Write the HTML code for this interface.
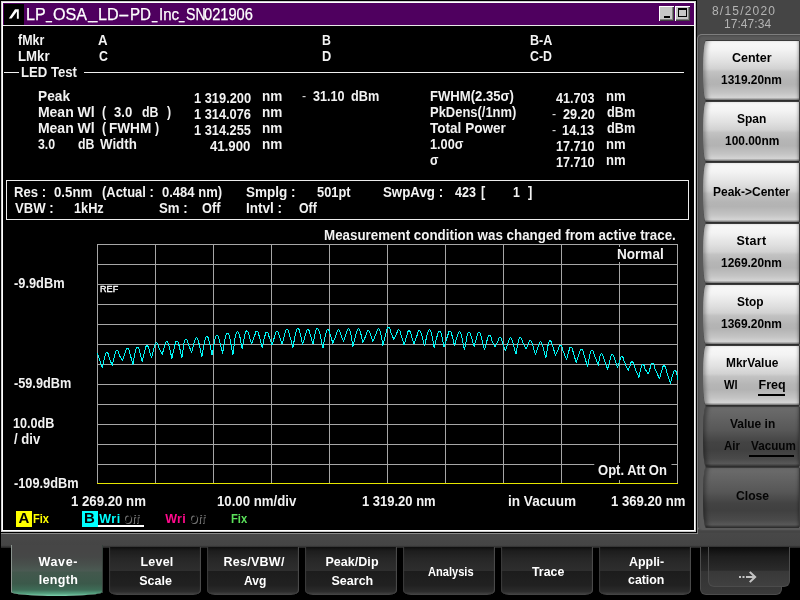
<!DOCTYPE html>
<html><head><meta charset="utf-8"><title>OSA</title>
<style>
html,body{margin:0;padding:0}
body{width:800px;height:600px;position:relative;overflow:hidden;background:#000;font-family:"Liberation Sans",sans-serif;}
.t{position:absolute;white-space:pre;line-height:1;transform-origin:0 0;font-weight:bold;color:#f2f2f2;font-family:"Liberation Sans",sans-serif;}
.a{position:absolute;}
#tx{left:0;top:0;width:800px;height:600px;will-change:transform;}
.g{position:absolute;left:0;top:0;}
/* right panel */
#rp{left:696px;top:0;width:104px;height:547px;background:#454545;}
#rpl{left:696px;top:0;width:1px;height:533px;background:#000;}
#rpl2{left:697px;top:40px;width:1px;height:494px;background:#7e7e7e;}
#pn{left:697px;top:34px;width:110px;height:497px;border-bottom-color:#4a4a4a !important;border:1px solid #7e7e7e;border-radius:5px;background:#5a5a5a;box-sizing:border-box;box-shadow:inset 1px 1px 2px rgba(0,0,0,.2);}
.rb{position:absolute;left:703px;width:96px;height:59px;border-radius:3px 0 0 3px / 29px 0 0 29px;
 background:linear-gradient(to bottom,#f9f9f9 0%,#f3f3f3 15%,#e0e0e0 35%,#d2d2d2 47%,#c2c2c2 52%,#b5b5b5 66%,#b3b3b3 74%,#c4c4c4 88%,#d4d4d4 96%,#7a7a7a 100%);
 box-shadow:inset 4px 0 4px -2px rgba(0,0,0,.35), inset -3px 0 3px -2px rgba(0,0,0,.3), 0 1px 0 #2e2e2e, 0 -1px 0 #3a3a3a, 1px 0 0 #3c3c3c;}
.rb.dk{background:linear-gradient(to bottom,#6c6c6c 0%,#636363 18%,#575757 40%,#4d4d4d 50%,#434343 60%,#404040 72%,#4a4a4a 88%,#585858 96%,#3c3c3c 100%);
 box-shadow:inset 4px 0 4px -2px rgba(0,0,0,.4), inset -3px 0 3px -2px rgba(0,0,0,.3), 0 1px 0 #2e2e2e, 0 -1px 0 #3a3a3a, 1px 0 0 #3c3c3c;}
/* bottom */
.atab{position:absolute;top:547px;box-sizing:border-box;border:1px solid #4c4c4c;border-top:none;border-radius:0 0 6px 6px;}
#bb{left:1px;top:533px;width:799px;height:15px;background:linear-gradient(to bottom,#484848 0%,#454545 82%,#222 100%);}
#bbt{left:1px;top:533px;width:697px;height:1px;background:#8a8a8a;}
.tab{position:absolute;top:547px;width:92px;height:48px;border-radius:0 0 8px 8px / 0 0 5px 5px;
 background:linear-gradient(to bottom,#0e0e0e 0%,#1d1d1d 8%,#272727 25%,#2e2e2e 49%,#1c1c1c 51%,#212121 80%,#2c2c2c 93%,#484848 100%);
 box-shadow:inset 2px 0 1px -1px #3c3c3c, inset -2px 0 1px -1px #4e4e4e;}
.tab.act{top:545px;height:51px;border-radius:0 0 46px 46px / 0 0 4px 4px;
 background:linear-gradient(to bottom,#464646 0%,#464646 14%,#464847 24%,#48504c 38%,#4b5a53 51%,#43584d 53%,#3b594a 76%,#3e6c57 88%,#55a07f 95%,#7ed0ad 100%);
 box-shadow:inset 1px 0 0 #8a938e, inset -1px 0 0 #36403b;}
</style></head>
<body>
<!-- window frame -->
<div class="a" style="left:1px;top:1px;width:695px;height:531px;background:#fff;"></div>
<div class="a" style="left:1px;top:1px;width:1px;height:531px;background:#d0d0d0;"></div>
<div class="a" style="left:1px;top:1px;width:695px;height:1px;background:#d0d0d0;"></div>
<div class="a" style="left:695px;top:2px;width:1px;height:530px;background:#c8c8c8;"></div>
<div class="a" style="left:2px;top:531px;width:694px;height:1px;background:#c8c8c8;"></div>
<div class="a" style="left:3px;top:3px;width:691px;height:527px;background:#000;"></div>
<!-- title bar -->
<div class="a" style="left:3px;top:3px;width:691px;height:22px;background:#4f005f;"></div>
<div class="a" style="left:3px;top:25px;width:691px;height:1px;background:#e8e8e8;"></div>
<div class="a" style="left:4px;top:4px;width:20px;height:21px;background:#000;"></div>
<svg class="a" style="left:4px;top:4px" width="20" height="21" viewBox="0 0 20 21"><path d="M4.8 14.6 L11 5.3 L14.8 5.3 L14.8 14.8 L12.9 14.8 L12.9 7.4 L7.6 14.6 Z" fill="#fff"/></svg>
<!-- title buttons -->
<div class="a" style="left:659px;top:6px;width:15px;height:15px;background:#c6c6c6;box-shadow:inset 1px 1px 0 #fff, inset -1px -1px 0 #404040, inset -2px -2px 0 #808080;"></div>
<div class="a" style="left:664px;top:16px;width:6px;height:2px;background:#000;"></div>
<div class="a" style="left:675px;top:6px;width:15px;height:15px;background:#c6c6c6;box-shadow:inset 1px 1px 0 #fff, inset -1px -1px 0 #404040, inset -2px -2px 0 #808080;"></div>
<div class="a" style="left:678px;top:8px;width:9px;height:9px;box-sizing:border-box;border:1px solid #000;border-top-width:2px;"></div>
<!-- LED Test separator -->
<div class="a" style="left:4px;top:72px;width:15px;height:1px;background:#f0f0f0;"></div>
<div class="a" style="left:84px;top:72px;width:600px;height:1px;background:#f0f0f0;"></div>
<!-- res box -->
<div class="a" style="left:6px;top:180px;width:683px;height:40px;box-sizing:border-box;border:1px solid #ececec;"></div>
<svg class="g" width="800" height="600" viewBox="0 0 800 600">
<rect x="97" y="244" width="1" height="240" fill="#a6a6a6"/><rect x="155" y="244" width="1" height="240" fill="#a6a6a6"/><rect x="213" y="244" width="1" height="240" fill="#a6a6a6"/><rect x="271" y="244" width="1" height="240" fill="#a6a6a6"/><rect x="329" y="244" width="1" height="240" fill="#a6a6a6"/><rect x="387" y="244" width="1" height="240" fill="#a6a6a6"/><rect x="445" y="244" width="1" height="240" fill="#a6a6a6"/><rect x="503" y="244" width="1" height="240" fill="#a6a6a6"/><rect x="561" y="244" width="1" height="240" fill="#a6a6a6"/><rect x="619" y="244" width="1" height="240" fill="#a6a6a6"/><rect x="677" y="244" width="1" height="240" fill="#a6a6a6"/><rect x="97" y="244" width="581" height="1" fill="#a6a6a6"/><rect x="97" y="264" width="581" height="1" fill="#a6a6a6"/><rect x="97" y="284" width="581" height="1" fill="#a6a6a6"/><rect x="97" y="304" width="581" height="1" fill="#a6a6a6"/><rect x="97" y="324" width="581" height="1" fill="#a6a6a6"/><rect x="97" y="344" width="581" height="1" fill="#a6a6a6"/><rect x="97" y="364" width="581" height="1" fill="#a6a6a6"/><rect x="97" y="384" width="581" height="1" fill="#a6a6a6"/><rect x="97" y="404" width="581" height="1" fill="#a6a6a6"/><rect x="97" y="424" width="581" height="1" fill="#a6a6a6"/><rect x="97" y="444" width="581" height="1" fill="#a6a6a6"/><rect x="97" y="464" width="581" height="1" fill="#a6a6a6"/><rect x="97" y="483" width="581" height="1" fill="#e6e600"/>
<polyline points="97.0,352.5 98.0,356.0 102.0,367.6 104.2,356.1 105.4,352.4 106.4,351.6 107.6,353.1 108.8,357.1 111.6,365.0 114.4,354.1 115.6,350.4 116.6,349.6 117.8,351.1 119.0,355.1 122.0,360.0 124.8,351.9 126.0,348.2 127.0,347.4 128.2,348.9 129.4,352.9 132.4,364.0 134.8,350.9 136.0,347.2 137.0,346.4 138.2,347.9 139.4,351.9 141.6,361.0 144.4,349.5 145.6,345.8 146.6,345.0 147.8,346.5 149.0,350.5 151.0,357.0 153.8,346.5 155.0,342.8 156.0,342.0 157.2,343.5 158.4,347.5 161.6,354.0 164.2,345.5 165.4,341.8 166.4,341.0 167.6,342.5 168.8,346.5 171.4,358.0 174.2,344.9 175.4,341.2 176.4,340.4 177.6,341.9 178.8,345.9 181.4,357.0 183.4,342.9 184.6,339.2 185.6,338.4 186.8,339.9 188.0,343.9 191.0,352.0 193.8,341.5 195.0,337.8 196.0,337.0 197.2,338.5 198.4,342.5 201.4,356.4 204.2,340.1 205.4,336.4 206.4,335.6 207.6,337.1 208.8,341.1 211.6,354.4 214.4,338.9 215.6,335.2 216.6,334.4 217.8,335.9 219.0,339.9 222.0,353.0 224.8,336.9 226.0,333.2 227.0,332.4 228.2,333.9 229.4,337.9 232.4,354.4 234.8,335.5 236.0,331.8 237.0,331.0 238.2,332.5 239.4,336.5 241.6,348.0 244.2,334.7 245.4,331.0 246.4,330.2 247.6,331.7 248.8,335.7 251.0,343.6 254.2,334.9 255.4,331.2 256.4,330.4 257.6,331.9 258.8,335.9 261.6,347.0 264.2,335.9 265.4,332.2 266.4,331.4 267.6,332.9 268.8,336.9 271.6,344.4 274.4,335.1 275.6,331.4 276.6,330.6 277.8,332.1 279.0,336.1 281.6,343.6 284.4,333.1 285.6,329.4 286.6,328.6 287.8,330.1 289.0,334.1 292.4,347.0 295.2,332.1 296.4,328.4 297.4,327.6 298.6,329.1 299.8,333.1 302.0,344.4 305.2,333.1 306.4,329.4 307.4,328.6 308.6,330.1 309.8,334.1 312.4,343.6 314.8,332.1 316.0,328.4 317.0,327.6 318.2,329.1 319.4,333.1 322.4,347.6 325.2,333.1 326.4,329.4 327.4,328.6 328.6,330.1 329.8,334.1 332.4,343.0 335.8,333.5 337.0,329.8 338.0,329.0 339.2,330.5 340.4,334.5 343.0,341.0 345.8,332.5 347.0,328.8 348.0,328.0 349.2,329.5 350.4,333.5 352.4,346.4 355.8,332.5 357.0,328.8 358.0,328.0 359.2,329.5 360.4,333.5 362.4,342.0 365.8,334.1 367.0,330.4 368.0,329.6 369.2,331.1 370.4,335.1 372.4,341.0 375.8,332.5 377.0,328.8 378.0,328.0 379.2,329.5 380.4,333.5 382.4,345.0 385.8,330.9 387.0,327.2 388.0,326.4 389.2,327.9 390.4,331.9 393.3,339.0 396.0,333.5 397.2,329.8 398.2,329.0 399.4,330.5 400.6,334.5 403.6,344.4 406.4,334.5 407.6,330.8 408.6,330.0 409.8,331.5 411.0,335.5 413.6,343.6 416.8,334.1 418.0,330.4 419.0,329.6 420.2,331.1 421.4,335.1 424.0,345.6 426.8,333.5 428.0,329.8 429.0,329.0 430.2,330.5 431.4,334.5 433.6,347.0 436.8,334.9 438.0,331.2 439.0,330.4 440.2,331.9 441.4,335.9 443.6,346.4 447.2,334.9 448.4,331.2 449.4,330.4 450.6,331.9 451.8,335.9 454.0,345.0 456.8,335.5 458.0,331.8 459.0,331.0 460.2,332.5 461.4,336.5 464.0,349.6 466.4,336.1 467.6,332.4 468.6,331.6 469.8,333.1 471.0,337.1 473.6,346.0 476.4,336.1 477.6,332.4 478.6,331.6 479.8,333.1 481.0,337.1 484.0,349.6 486.8,338.9 488.0,335.2 489.0,334.4 490.2,335.9 491.4,339.9 494.4,346.4 497.4,341.1 498.6,337.4 499.6,336.6 500.8,338.1 502.0,342.1 505.0,350.4 507.8,341.5 509.0,337.8 510.0,337.0 511.2,338.5 512.4,342.5 515.4,353.6 517.8,341.1 519.0,337.4 520.0,336.6 521.2,338.1 522.4,342.1 525.6,348.4 527.8,344.1 529.0,340.4 530.0,339.6 531.2,341.1 532.4,345.1 535.0,354.4 537.8,345.5 539.0,341.8 540.0,341.0 541.2,342.5 542.4,346.5 545.3,357.3 547.6,344.5 548.8,340.8 549.8,340.0 551.0,341.5 552.2,345.5 555.0,355.0 557.8,348.9 559.0,345.2 560.0,344.4 561.2,345.9 562.4,349.9 566.0,359.0 568.2,350.9 569.4,347.2 570.4,346.4 571.6,347.9 572.8,351.9 575.6,362.0 578.8,352.9 580.0,349.2 581.0,348.4 582.2,349.9 583.4,353.9 587.0,366.0 589.4,354.1 590.6,350.4 591.6,349.6 592.8,351.1 594.0,355.1 598.0,365.0 598.8,357.5 600.0,353.8 601.0,353.0 602.2,354.5 603.4,358.5 607.0,369.0 609.8,358.1 611.0,354.4 612.0,353.6 613.2,355.1 614.4,359.1 617.0,367.0 619.2,360.1 620.4,356.4 621.4,355.6 622.6,357.1 623.8,361.1 627.6,370.0 629.4,365.5 630.6,361.8 631.6,361.0 632.8,362.5 634.0,366.5 638.4,377.0 640.2,368.1 641.4,364.4 642.4,363.6 643.6,365.1 644.8,369.1 648.0,373.6 649.8,366.9 651.0,363.2 652.0,362.4 653.2,363.9 654.4,367.9 659.0,378.4 661.4,369.5 662.6,365.8 663.6,365.0 664.8,366.5 666.0,370.5 670.0,383.0 672.2,374.1 673.4,370.4 674.4,369.6 675.6,371.1 676.8,375.1 677.0,380.0" fill="none" stroke="#00f8f8" stroke-width="1" stroke-linejoin="bevel" shape-rendering="crispEdges" transform="translate(0.5,0.5)"/>
</svg>
<!-- legend boxes -->
<div class="a" style="left:16px;top:511px;width:16px;height:16px;background:#ffff00;"></div>
<div class="a" style="left:82px;top:511px;width:16px;height:16px;background:#00ffff;"></div>
<div class="a" style="left:98px;top:525px;width:46px;height:2px;background:#fff;"></div>
<!-- right panel -->
<div class="a" id="rp"></div><div class="a" id="rpl"></div><div class="a" id="rpl2"></div>
<div class="a" id="pn"></div>
<div class="rb" style="top:41px"></div><div class="rb" style="top:102px"></div><div class="rb" style="top:163px"></div><div class="rb" style="top:224px"></div><div class="rb" style="top:285px"></div><div class="rb" style="top:346px"></div><div class="rb dk" style="top:407px"></div><div class="rb dk" style="top:468px"></div>
<div class="a" style="left:758px;top:394px;width:27px;height:2px;background:#000;"></div>
<div class="a" style="left:749px;top:455px;width:45px;height:2px;background:#000;"></div>
<!-- bottom bar -->
<div class="a" style="left:0;top:532px;width:697px;height:1px;background:#000;"></div>
<div class="a" id="bb"></div><div class="a" id="bbt"></div>
<div class="tab act" style="left:11px"></div><div class="tab" style="left:109px"></div><div class="tab" style="left:207px"></div><div class="tab" style="left:305px"></div><div class="tab" style="left:403px"></div><div class="tab" style="left:501px"></div><div class="tab" style="left:599px"></div>
<div class="atab" style="left:700px;width:82px;height:48px;background:linear-gradient(to bottom,#0c0c0c 0%,#1e1e1e 20%,#2a2a2a 50%,#333 51%,#3a3a3a 100%);"></div>
<div class="atab" style="left:708px;width:82px;height:40px;background:linear-gradient(to bottom,#0c0c0c 0%,#1e1e1e 24%,#2b2b2b 60%,#383838 61%,#404040 100%);"></div>
<svg class="a" style="left:738px;top:570px" width="22" height="14" viewBox="0 0 22 14"><path d="M1 6h2v2h-2z M4.5 6h2v2h-2z M8 6h8v2h-8z M12.5 1.2 L18.6 7 L12.5 12.8 L11 11.4 L15.6 7 L11 2.6 Z" fill="#c4c4c4"/></svg>
<div class="a" id="tx">
<span class="t" style="left:25.5px;top:7px;font-size:16px;font-weight:normal;color:#ffffff;transform:scaleX(1.004);-webkit-text-stroke:0.25px #fff;">LP</span>
<span class="t" style="left:46.2px;top:5.6px;font-size:16px;font-weight:normal;color:#ffffff;transform:scaleX(0.661);-webkit-text-stroke:0.25px #fff;">_</span>
<span class="t" style="left:52.5px;top:7px;font-size:16px;font-weight:normal;color:#ffffff;transform:scaleX(1.006);-webkit-text-stroke:0.25px #fff;">OSA</span>
<span class="t" style="left:88.1px;top:5.6px;font-size:16px;font-weight:normal;color:#ffffff;transform:scaleX(0.531);-webkit-text-stroke:0.25px #fff;">__</span>
<span class="t" style="left:98.3px;top:7px;font-size:16px;font-weight:normal;color:#ffffff;transform:scaleX(1.01);-webkit-text-stroke:0.25px #fff;">LD</span>
<span class="t" style="left:118.2px;top:7px;font-size:16px;font-weight:normal;color:#ffffff;transform:scaleX(2.175);-webkit-text-stroke:0.25px #fff;">-</span>
<span class="t" style="left:129.6px;top:7px;font-size:16px;font-weight:normal;color:#ffffff;transform:scaleX(0.946);-webkit-text-stroke:0.25px #fff;">PD</span>
<span class="t" style="left:151.5px;top:5.6px;font-size:16px;font-weight:normal;color:#ffffff;transform:scaleX(0.597);-webkit-text-stroke:0.25px #fff;">_</span>
<span class="t" style="left:158.5px;top:7px;font-size:16px;font-weight:normal;color:#ffffff;transform:scaleX(0.939);-webkit-text-stroke:0.25px #fff;">Inc</span>
<span class="t" style="left:179.2px;top:5.6px;font-size:16px;font-weight:normal;color:#ffffff;transform:scaleX(0.608);-webkit-text-stroke:0.25px #fff;">_</span>
<span class="t" style="left:185.7px;top:7px;font-size:16px;font-weight:normal;color:#ffffff;transform:scaleX(0.882);-webkit-text-stroke:0.25px #fff;">SN</span>
<span class="t" style="left:204.1px;top:7px;font-size:16px;font-weight:normal;color:#ffffff;transform:scaleX(0.915);-webkit-text-stroke:0.25px #fff;">021906</span>
<span class="t" style="left:17.9px;top:33px;font-size:14px;transform:scaleX(0.889);">fMkr</span>
<span class="t" style="left:17.6px;top:49px;font-size:14px;transform:scaleX(0.945);">LMkr</span>
<span class="t" style="left:97.8px;top:33px;font-size:14px;transform:scaleX(0.947);">A</span>
<span class="t" style="left:98.5px;top:49px;font-size:14px;transform:scaleX(0.88);">C</span>
<span class="t" style="left:321.7px;top:33px;font-size:14px;transform:scaleX(0.88);">B</span>
<span class="t" style="left:321.7px;top:49px;font-size:14px;transform:scaleX(0.914);">D</span>
<span class="t" style="left:529.7px;top:33px;font-size:14px;transform:scaleX(0.899);">B-A</span>
<span class="t" style="left:530.0px;top:49px;font-size:14px;transform:scaleX(0.88);">C-D</span>
<span class="t" style="left:21.2px;top:65px;font-size:14px;transform:scaleX(0.939);">LED Test</span>
<span class="t" style="left:37.9px;top:89px;font-size:14px;transform:scaleX(0.979);">Peak</span>
<span class="t" style="left:37.9px;top:105px;font-size:14px;">Mean Wl</span>
<span class="t" style="left:37.9px;top:121px;font-size:14px;">Mean Wl</span>
<span class="t" style="left:101.6px;top:105px;font-size:14px;transform:scaleX(0.88);">(</span>
<span class="t" style="left:114.3px;top:105px;font-size:14px;transform:scaleX(0.937);">3.0</span>
<span class="t" style="left:142.1px;top:105px;font-size:14px;transform:scaleX(0.883);">dB</span>
<span class="t" style="left:167.2px;top:105px;font-size:14px;transform:scaleX(0.88);">)</span>
<span class="t" style="left:101.6px;top:121px;font-size:14px;transform:scaleX(0.88);">(</span>
<span class="t" style="left:109.2px;top:121px;font-size:14px;transform:scaleX(0.97);">FWHM</span>
<span class="t" style="left:154.7px;top:121px;font-size:14px;transform:scaleX(0.88);">)</span>
<span class="t" style="left:38.4px;top:137px;font-size:14px;transform:scaleX(0.88);">3.0</span>
<span class="t" style="left:78.2px;top:137px;font-size:14px;transform:scaleX(0.88);">dB</span>
<span class="t" style="left:99.5px;top:137px;font-size:14px;transform:scaleX(0.949);">Width</span>
<span class="t" style="left:193.5px;top:90.5px;font-size:14px;transform:scaleX(0.917);">1 319.200</span>
<span class="t" style="left:193.5px;top:106.5px;font-size:14px;transform:scaleX(0.915);">1 314.076</span>
<span class="t" style="left:193.5px;top:122.5px;font-size:14px;transform:scaleX(0.913);">1 314.255</span>
<span class="t" style="left:210.2px;top:138.5px;font-size:14px;transform:scaleX(0.944);">41.900</span>
<span class="t" style="left:261.7px;top:89px;font-size:14px;transform:scaleX(0.969);">nm</span>
<span class="t" style="left:261.7px;top:105px;font-size:14px;transform:scaleX(0.969);">nm</span>
<span class="t" style="left:261.7px;top:121px;font-size:14px;transform:scaleX(0.969);">nm</span>
<span class="t" style="left:261.7px;top:137px;font-size:14px;transform:scaleX(0.969);">nm</span>
<span class="t" style="left:301.7px;top:89px;font-size:14px;font-weight:normal;color:#d0d0d0;transform:scaleX(0.88);">-</span>
<span class="t" style="left:313.2px;top:89px;font-size:14px;transform:scaleX(0.899);">31.10</span>
<span class="t" style="left:350.5px;top:89px;font-size:14px;transform:scaleX(0.906);">dBm</span>
<span class="t" style="left:429.7px;top:89px;font-size:14px;transform:scaleX(0.936);">FWHM(2.35σ)</span>
<span class="t" style="left:429.7px;top:105px;font-size:14px;transform:scaleX(0.925);">PkDens(/1nm)</span>
<span class="t" style="left:430.4px;top:121px;font-size:14px;transform:scaleX(0.968);">Total Power</span>
<span class="t" style="left:429.7px;top:137px;font-size:14px;transform:scaleX(0.909);">1.00σ</span>
<span class="t" style="left:429.7px;top:153px;font-size:14px;transform:scaleX(0.88);">σ</span>
<span class="t" style="left:555.9px;top:90.5px;font-size:14px;transform:scaleX(0.899);">41.703</span>
<span class="t" style="left:551.5px;top:106.5px;font-size:14px;font-weight:normal;color:#d0d0d0;transform:scaleX(0.88);">-</span>
<span class="t" style="left:562.7px;top:106.5px;font-size:14px;transform:scaleX(0.908);">29.20</span>
<span class="t" style="left:551.5px;top:122.5px;font-size:14px;font-weight:normal;color:#d0d0d0;transform:scaleX(0.88);">-</span>
<span class="t" style="left:562.2px;top:122.5px;font-size:14px;transform:scaleX(0.919);">14.13</span>
<span class="t" style="left:555.9px;top:138.5px;font-size:14px;transform:scaleX(0.901);">17.710</span>
<span class="t" style="left:555.9px;top:154.5px;font-size:14px;transform:scaleX(0.901);">17.710</span>
<span class="t" style="left:606.2px;top:89px;font-size:14px;transform:scaleX(0.933);">nm</span>
<span class="t" style="left:606.5px;top:105px;font-size:14px;transform:scaleX(0.906);">dBm</span>
<span class="t" style="left:606.5px;top:121px;font-size:14px;transform:scaleX(0.906);">dBm</span>
<span class="t" style="left:606.2px;top:137px;font-size:14px;transform:scaleX(0.933);">nm</span>
<span class="t" style="left:606.2px;top:153px;font-size:14px;transform:scaleX(0.933);">nm</span>
<span class="t" style="left:14.2px;top:185px;font-size:14px;transform:scaleX(0.935);">Res :</span>
<span class="t" style="left:53.5px;top:185px;font-size:14px;transform:scaleX(0.945);">0.5nm</span>
<span class="t" style="left:102.4px;top:185px;font-size:14px;transform:scaleX(0.924);">(Actual :</span>
<span class="t" style="left:161.5px;top:185px;font-size:14px;transform:scaleX(0.93);">0.484 nm)</span>
<span class="t" style="left:15.0px;top:201px;font-size:14px;transform:scaleX(0.939);">VBW :</span>
<span class="t" style="left:74.2px;top:201px;font-size:14px;transform:scaleX(0.91);">1kHz</span>
<span class="t" style="left:158.6px;top:201px;font-size:14px;transform:scaleX(0.942);">Sm :</span>
<span class="t" style="left:202.0px;top:201px;font-size:14px;transform:scaleX(0.909);">Off</span>
<span class="t" style="left:246.1px;top:185px;font-size:14px;transform:scaleX(0.966);">Smplg :</span>
<span class="t" style="left:316.7px;top:185px;font-size:14px;transform:scaleX(0.916);">501pt</span>
<span class="t" style="left:382.6px;top:185px;font-size:14px;transform:scaleX(0.95);">SwpAvg :</span>
<span class="t" style="left:454.5px;top:185px;font-size:14px;transform:scaleX(0.894);">423</span>
<span class="t" style="left:480.9px;top:185px;font-size:14px;transform:scaleX(0.907);">[</span>
<span class="t" style="left:513.1px;top:185px;font-size:14px;transform:scaleX(0.88);">1</span>
<span class="t" style="left:528.3px;top:185px;font-size:14px;transform:scaleX(0.929);">]</span>
<span class="t" style="left:245.7px;top:201px;font-size:14px;transform:scaleX(0.964);">Intvl :</span>
<span class="t" style="left:299.1px;top:201px;font-size:14px;transform:scaleX(0.88);">Off</span>
<span class="t" style="left:324.2px;top:228px;font-size:14px;transform:scaleX(0.954);">Measurement condition was changed from active trace.</span>
<span class="t" style="left:616.7px;top:247px;font-size:14px;transform:scaleX(0.968);background:#000;box-shadow:-3px 0 0 #000,4px 0 0 #000,0 1px 0 #000,-3px 1px 0 #000,4px 1px 0 #000;">Normal</span>
<span class="t" style="left:598.3px;top:463px;font-size:14px;transform:scaleX(0.93);background:#000;box-shadow:-4px 0 0 #000,5px 0 0 #000,0 3px 0 #000,-4px 3px 0 #000,5px 3px 0 #000;">Opt. Att On</span>
<span class="t" style="left:99.9px;top:285px;font-size:9px;font-weight:normal;color:#ffffff;letter-spacing:0.19px;-webkit-text-stroke:0.35px #fff;">REF</span>
<span class="t" style="left:13.5px;top:276px;font-size:14px;transform:scaleX(0.916);">-9.9dBm</span>
<span class="t" style="left:13.5px;top:376px;font-size:14px;transform:scaleX(0.908);">-59.9dBm</span>
<span class="t" style="left:13.2px;top:415.5px;font-size:14px;transform:scaleX(0.9);">10.0dB</span>
<span class="t" style="left:13.9px;top:431.5px;font-size:14px;transform:scaleX(0.934);">/ div</span>
<span class="t" style="left:13.5px;top:475.5px;font-size:14px;transform:scaleX(0.911);">-109.9dBm</span>
<span class="t" style="left:71.2px;top:493.5px;font-size:14px;transform:scaleX(0.944);">1 269.20 nm</span>
<span class="t" style="left:217.2px;top:493.5px;font-size:14px;transform:scaleX(0.944);">10.00 nm/div</span>
<span class="t" style="left:361.7px;top:493.5px;font-size:14px;transform:scaleX(0.928);">1 319.20 nm</span>
<span class="t" style="left:508.1px;top:493.5px;font-size:14px;transform:scaleX(0.972);">in Vacuum</span>
<span class="t" style="left:610.7px;top:493.5px;font-size:14px;transform:scaleX(0.937);">1 369.20 nm</span>
<span class="t" style="left:18.6px;top:510.4px;font-size:15px;color:#000;">A</span>
<span class="t" style="left:32.9px;top:513px;font-size:12.5px;color:#ffff00;transform:scaleX(0.888);">Fix</span>
<span class="t" style="left:84.1px;top:510.4px;font-size:15px;color:#000;">B</span>
<span class="t" style="left:99.3px;top:513px;font-size:12.5px;color:#00ffff;letter-spacing:0.5px;">Wri</span>
<span class="t" style="left:122.9px;top:513px;font-size:12.5px;color:#000;transform:scaleX(0.88);text-shadow:1px 1px 0 #707070;">Off</span>
<span class="t" style="left:165.3px;top:513px;font-size:12.5px;color:#ff0a8c;letter-spacing:0.22px;">Wri</span>
<span class="t" style="left:188.7px;top:513px;font-size:12.5px;color:#000;transform:scaleX(0.88);text-shadow:1px 1px 0 #707070;">Off</span>
<span class="t" style="left:230.8px;top:513px;font-size:12.5px;color:#5ae05a;transform:scaleX(0.899);">Fix</span>
<span class="t" style="left:712.0px;top:4.7px;font-size:12px;font-weight:normal;color:#b4b4b4;letter-spacing:1.2px;">8/15/2020</span>
<span class="t" style="left:723.9px;top:17.6px;font-size:12px;font-weight:normal;color:#b4b4b4;letter-spacing:0.09px;">17:47:34</span>
<span class="t" style="left:732.0px;top:51.5px;font-size:12.5px;color:#000000;">Center</span>
<span class="t" style="left:720.8px;top:73.7px;font-size:12.5px;color:#000000;transform:scaleX(0.953);">1319.20nm</span>
<span class="t" style="left:737.4px;top:112.5px;font-size:12.5px;color:#000000;transform:scaleX(0.961);">Span</span>
<span class="t" style="left:724.8px;top:134.7px;font-size:12.5px;color:#000000;transform:scaleX(0.955);">100.00nm</span>
<span class="t" style="left:713.1px;top:186.2px;font-size:12.5px;color:#000000;transform:scaleX(0.96);">Peak-&gt;Center</span>
<span class="t" style="left:736.5px;top:234.5px;font-size:12.5px;color:#000000;letter-spacing:0.28px;">Start</span>
<span class="t" style="left:720.8px;top:256.7px;font-size:12.5px;color:#000000;transform:scaleX(0.953);">1269.20nm</span>
<span class="t" style="left:737.4px;top:295.5px;font-size:12.5px;color:#000000;transform:scaleX(0.951);">Stop</span>
<span class="t" style="left:720.8px;top:317.7px;font-size:12.5px;color:#000000;transform:scaleX(0.953);">1369.20nm</span>
<span class="t" style="left:726.0px;top:356.5px;font-size:12.5px;color:#000000;transform:scaleX(0.953);">MkrValue</span>
<span class="t" style="left:724.3px;top:378.5px;font-size:12.5px;color:#000000;transform:scaleX(0.894);">Wl</span>
<span class="t" style="left:758.5px;top:378.5px;font-size:12.5px;color:#000000;letter-spacing:0.04px;">Freq</span>
<span class="t" style="left:729.5px;top:417.5px;font-size:12.5px;color:#050505;transform:scaleX(0.957);">Value in</span>
<span class="t" style="left:723.7px;top:439.7px;font-size:12.5px;color:#050505;transform:scaleX(0.918);">Air</span>
<span class="t" style="left:750.7px;top:439.7px;font-size:12.5px;color:#050505;transform:scaleX(0.934);">Vacuum</span>
<span class="t" style="left:735.5px;top:490.3px;font-size:12.5px;color:#050505;transform:scaleX(0.97);">Close</span>
<span class="t" style="left:38.4px;top:555.6px;font-size:12.5px;color:#fff;letter-spacing:0.67px;">Wave-</span>
<span class="t" style="left:38.7px;top:574.4px;font-size:12.5px;color:#fff;letter-spacing:0.32px;">length</span>
<span class="t" style="left:140.5px;top:555.7px;font-size:12.5px;color:#fff;letter-spacing:0.22px;">Level</span>
<span class="t" style="left:139.2px;top:574.5px;font-size:12.5px;color:#fff;letter-spacing:0.04px;">Scale</span>
<span class="t" style="left:223.5px;top:555.7px;font-size:12.5px;color:#fff;letter-spacing:0.26px;">Res/VBW/</span>
<span class="t" style="left:243.5px;top:574.5px;font-size:12.5px;color:#fff;transform:scaleX(0.96);">Avg</span>
<span class="t" style="left:325.5px;top:555.7px;font-size:12.5px;color:#fff;letter-spacing:0.03px;">Peak/Dip</span>
<span class="t" style="left:331.5px;top:574.5px;font-size:12.5px;color:#fff;letter-spacing:0.01px;">Search</span>
<span class="t" style="left:427.8px;top:565.7px;font-size:12.5px;color:#fff;transform:scaleX(0.887);">Analysis</span>
<span class="t" style="left:531.8px;top:565.5px;font-size:12.5px;color:#fff;transform:scaleX(0.987);">Trace</span>
<span class="t" style="left:629.2px;top:555.5px;font-size:12.5px;color:#fff;transform:scaleX(0.993);">Appli-</span>
<span class="t" style="left:628.2px;top:574.3px;font-size:12.5px;color:#fff;transform:scaleX(0.989);">cation</span>
</div>
</body></html>
